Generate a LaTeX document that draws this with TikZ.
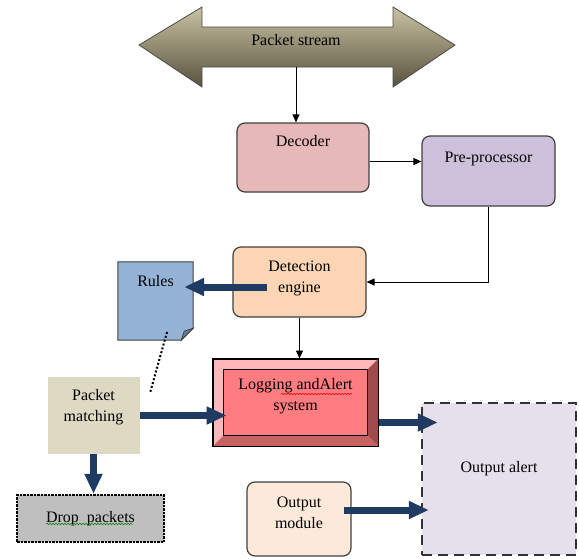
\documentclass[tikz,border=0pt]{standalone}
\usepackage{fontspec}
\setmainfont{Liberation Serif}
\usetikzlibrary{arrows.meta,decorations.pathmorphing,positioning}

\definecolor{navy}{HTML}{1F3A63}
\definecolor{streamtop}{HTML}{C9C2A2}
\definecolor{streambot}{HTML}{58523F}
\definecolor{decfill}{HTML}{E6B8B7}
\definecolor{prefill}{HTML}{CCC0DA}
\definecolor{detfill}{HTML}{FCD5B4}
\definecolor{rulefill}{HTML}{95B3D7}
\definecolor{pmfill}{HTML}{DDD9C3}
\definecolor{dropfill}{HTML}{BFBFBF}
\definecolor{outfill}{HTML}{E5E0EC}
\definecolor{omfill}{HTML}{FDE9D9}
\definecolor{logface}{HTML}{FF7C80}
\definecolor{logright}{HTML}{A04B4B}
\definecolor{logbottom}{HTML}{C86363}

\tikzset{
  procbox/.style={draw=black!75, line width=1.2pt, rounded corners=8pt, inner sep=0pt},
  txt/.style={font=\fontsize{16}{21}\selectfont, align=center, inner sep=0pt},
  thin arrow/.style={-{Triangle[length=8pt,width=7pt]}, line width=1pt},
  big arrow/.style={-{Triangle[length=20pt,width=17pt]}, line width=7pt, draw=navy},
}

\begin{document}
\begin{tikzpicture}[x=1pt,y=-1pt]
    \useasboundingbox (0,0) rectangle (579,558);

    % packet stream
    \shade[top color=streamtop, bottom color=streambot, draw=black!70, line width=0.8pt]
        (139,45) -- (202,7) -- (202,27) -- (393,27) -- (393,7) -- (455,45)
        -- (393,87) -- (393,67) -- (202,67) -- (202,87) -- cycle;
    \node[txt] (stream) at (296,40) {Packet stream};
    \coordinate (stem) at (296,67);

    \node[procbox, fill=decfill, minimum width=132pt, minimum height=69pt,
        label={[txt, below=13pt]north:Decoder}] (dec) at (303,157.5) {};
    \node[procbox, fill=prefill, minimum width=133pt, minimum height=70pt,
        label={[txt, below=16pt]north:Pre-processor}] (pre) at (488.5,171) {};
    \node[procbox, fill=detfill, minimum width=133pt, minimum height=70pt,
        label={[txt, below=14pt]north:Detection\\engine}] (det) at (299.5,282) {};

    % rules sheet
    \node[minimum width=75pt, minimum height=78pt, inner sep=0pt] (rules) at (155.5,301) {};
    \filldraw[fill=rulefill, draw=black!75, line width=1pt]
        (rules.north west) -- (rules.north east) -- ([yshift=12pt]rules.south east)
        -- ([xshift=-12pt]rules.south east) -- (rules.south west) -- cycle;
    \filldraw[fill=rulefill!70!black, draw=black!75, line width=0.8pt]
        ([xshift=-12pt]rules.south east) -- ([xshift=-9pt,yshift=9pt]rules.south east)
        -- ([yshift=12pt]rules.south east) -- cycle;
    \node[txt, below=13pt] (rules-txt) at (rules.north) {Rules};

    % logging and alert (bevelled)
    \node[draw=black, line width=1pt, fill=logface!55!white, minimum width=165pt,
        minimum height=87pt, inner sep=0pt] (log) at (295.5,402.5) {};
    \fill[logright]
        (log.north east) -- (log.south east) -- ([xshift=-11pt,yshift=11pt]log.south east)
        -- ([xshift=-11pt,yshift=-11pt]log.north east) -- cycle;
    \fill[logbottom]
        (log.south west) -- (log.south east) -- ([xshift=-11pt,yshift=11pt]log.south east)
        -- ([xshift=11pt,yshift=11pt]log.south west) -- cycle;
    \filldraw[fill=logface, draw=black, line width=1pt]
        ([xshift=11pt,yshift=-11pt]log.north west) rectangle ([xshift=-11pt,yshift=11pt]log.south east);
    \draw[black, line width=1pt] (log.north west) rectangle (log.south east);
    \node[txt, below=20pt] (log-txt) at (log.north) {Logging andAlert\\system};
    \draw[red, line width=0.5pt, decorate, decoration={snake, amplitude=0.8pt, segment length=3pt}]
        (281,394) -- (352,394);

    \node[fill=pmfill, minimum width=92pt, minimum height=77pt, inner sep=0pt,
        label={[txt, below=12pt]north:Packet\\matching}] (pm) at (93.5,415.5) {};
    \node[txt, draw=black, densely dotted, line width=2.5pt, fill=dropfill,
        minimum width=147pt, minimum height=47pt] (drop) at (90.5,518.5) {Drop\ \ packets};
    \draw[green!50!black, line width=0.5pt, decorate, decoration={snake, amplitude=0.8pt, segment length=3pt}]
        (46,524) -- (133,524);

    \node[draw=black!80, dash pattern=on 10pt off 6pt, line width=2.5pt, fill=outfill,
        minimum width=154pt, minimum height=152pt, inner sep=0pt,
        label={[txt, below=59pt]north:Output alert}] (out) at (499,479) {};
    \node[procbox, fill=omfill, minimum width=104pt, minimum height=74pt,
        label={[txt, below=15pt]north:Output\\module}] (om) at (299,519) {};

    \coordinate (dot-a) at (167,332);
    \coordinate (dot-b) at (150,393);

    \draw[thin arrow] (stem) -- (stem |- dec.north);
    \draw[thin arrow] ([yshift=-4pt]dec.east) -- ([yshift=-4pt]dec.east -| pre.west);
    \draw[thin arrow] (pre.south) |- (det.east);
    \draw[thin arrow] (det.south) -- (det.south |- log.north);
    \draw[dotted, line width=2pt] (dot-a) -- (dot-b);

    \draw[big arrow] ([xshift=35pt,yshift=-5pt]det.west) -- ([xshift=-9pt,yshift=-5pt]det.west -| rules.east);
    \draw[big arrow] (pm.east) -- ([xshift=14pt]pm.east -| log.west);
    \draw[big arrow] (pm.south) -- (pm.south |- drop.north);
    \draw[big arrow] ([yshift=-20pt]log.east) -- ([xshift=17pt,yshift=-20pt]log.east -| out.west);
    \draw[big arrow] ([xshift=-8pt,yshift=9pt]om.east) -- ([xshift=8pt,yshift=9pt]om.east -| out.west);
\end{tikzpicture}
\end{document}
